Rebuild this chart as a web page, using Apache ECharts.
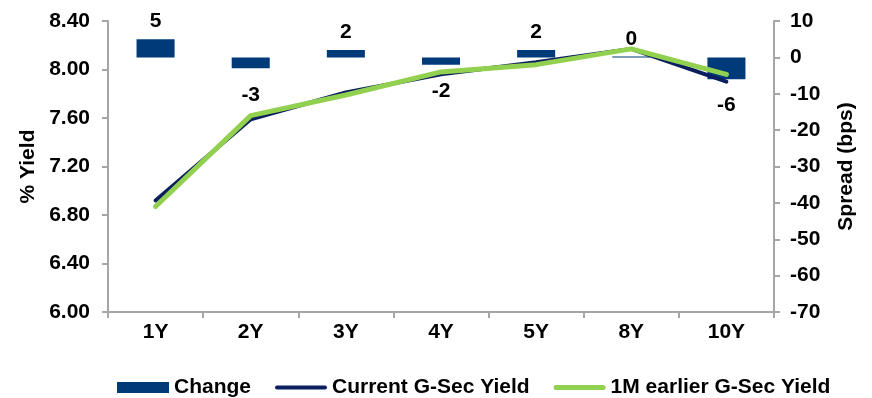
<!DOCTYPE html>
<html>
<head>
<meta charset="utf-8">
<style>
  html, body { margin: 0; padding: 0; background: #fff; }
  #chart { width: 872px; height: 398px; }
</style>
<script src="https://cdn.jsdelivr.net/npm/echarts@6/dist/echarts.min.js"></script>
</head>
<body>
<div id="chart"></div>
<script>
// Tenors on the curve
const tenors = ['1Y', '2Y', '3Y', '4Y', '5Y', '8Y', '10Y'];
// Yields in %
const currentYield = [6.92, 7.59, 7.81, 7.96, 8.06, 8.17, 7.90];
const earlierYield = [6.87, 7.62, 7.79, 7.98, 8.04, 8.17, 7.96];
// Change over the month, bps
const changeBps = [5, -3, 2, -2, 2, 0, -6];

const FONT = '"Liberation Sans", Arial, sans-serif';
const axisGrey = '#a6a6a6';
const labelStyle = { color: '#000', fontFamily: FONT, fontWeight: 'bold', fontSize: 21 };

const chart = echarts.init(document.getElementById('chart'));
chart.setOption({
  animation: false,
  grid: { left: 108, right: 98, top: 21, bottom: 86 },
  legend: {
    top: 372,
    left: 112,
    itemWidth: 52,
    itemHeight: 11,
    itemGap: 24,
    textStyle: { color: '#000', fontFamily: FONT, fontWeight: 'bold', fontSize: 21 },
    data: [
      { name: 'Change', icon: 'rect' },
      { name: 'Current G-Sec Yield', icon: 'path://M2,0H50A2,2,0,0,1,50,4H2A2,2,0,0,1,2,0Z' },
      { name: '1M earlier G-Sec Yield', icon: 'path://M2.5,0H49.5A2.5,2.5,0,0,1,49.5,5H2.5A2.5,2.5,0,0,1,2.5,0Z' }
    ]
  },
  xAxis: {
    type: 'category',
    data: tenors,
    boundaryGap: true,
    axisLine: { onZero: false, lineStyle: { color: axisGrey, width: 2 } },
    axisTick: { show: true, length: 6, lineStyle: { color: axisGrey, width: 2 } },
    axisLabel: Object.assign({ margin: 10 }, labelStyle)
  },
  yAxis: [
    {
      type: 'value',
      min: 6.0, max: 8.4, interval: 0.4,
      name: '% Yield',
      nameLocation: 'middle',
      nameGap: 68,
      nameTextStyle: labelStyle,
      axisLine: { show: true, lineStyle: { color: axisGrey, width: 2 } },
      axisTick: { show: true, length: 6, lineStyle: { color: axisGrey, width: 2 } },
      splitLine: { show: false },
      axisLabel: Object.assign({ margin: 18, formatter: v => v.toFixed(2) }, labelStyle)
    },
    {
      type: 'value',
      position: 'right',
      min: -70, max: 10, interval: 10,
      name: 'Spread (bps)',
      nameLocation: 'middle',
      nameGap: 62,
      nameRotate: 90,
      nameTextStyle: labelStyle,
      axisLine: { show: true, lineStyle: { color: axisGrey, width: 2 } },
      axisTick: { show: true, length: 6, lineStyle: { color: axisGrey, width: 2 } },
      splitLine: { show: false },
      axisLabel: Object.assign({ margin: 16 }, labelStyle)
    }
  ],
  series: [
    {
      name: 'Change',
      type: 'bar',
      yAxisIndex: 1,
      barWidth: '40%',
      barMinHeight: 1,
      itemStyle: { color: '#003a78' },
      data: changeBps.map(v => ({
        value: v,
        label: {
          show: true,
          position: v >= 0 ? 'top' : 'bottom',
          distance: v >= 0 ? 7 : 16
        }
      })),
      label: Object.assign({ show: true }, labelStyle)
    },
    {
      name: 'Current G-Sec Yield',
      type: 'line',
      yAxisIndex: 0,
      symbol: 'none',
      lineStyle: { color: '#0b1f5e', width: 4, cap: 'round' },
      itemStyle: { color: '#0b1f5e' },
      data: currentYield
    },
    {
      name: '1M earlier G-Sec Yield',
      type: 'line',
      yAxisIndex: 0,
      symbol: 'none',
      lineStyle: { color: '#92d050', width: 5, cap: 'round' },
      itemStyle: { color: '#92d050' },
      data: earlierYield
    }
  ]
});
</script>
</body>
</html>
